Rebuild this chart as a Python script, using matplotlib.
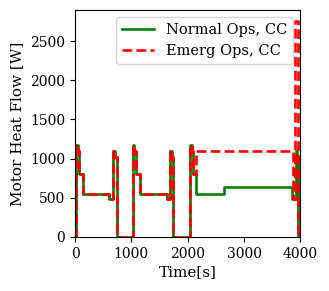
"""Motor heat flow over a mission profile, normal vs emergency ops (CC)."""

import numpy as np
import matplotlib
matplotlib.use("Agg")
import matplotlib.pyplot as plt

plt.rcParams['font.family'] = 'DejaVu Serif'

# step profile: value holds from each time until the next
t_normal = [0, 20, 45, 70, 140, 605, 676, 711, 738, 1025, 1050, 1075, 1145,
            1630, 1690, 1720, 1745, 2045, 2075, 2095, 2150, 2638, 3855,
            3915, 3940, 3965, 3990]
q_normal = [0, 1170, 1100, 800, 550, 480, 1100, 1020, 0, 1170, 1100, 800, 550,
            480, 1100, 1020, 0, 1170, 1100, 800, 550, 640, 480,
            1100, 1020, 0, 0]

t_emerg = [0, 20, 45, 70, 140, 605, 676, 711, 738, 1025, 1050, 1075, 1145,
           1630, 1690, 1720, 1745, 2045, 2075, 2095, 2150, 3862,
           3905, 3950, 3990]
q_emerg = [0, 1170, 1100, 800, 550, 480, 1100, 1020, 0, 1170, 1100, 800, 550,
           480, 1100, 1020, 0, 1170, 1100, 800, 1100, 480,
           2760, 0, 0]

fig = plt.figure(figsize=(3.29, 2.91), dpi=100)
ax = fig.add_axes([0.228, 0.186, 0.685, 0.780])

ax.plot(t_normal, q_normal, drawstyle='steps-post', color='green',
        lw=1.9, label='Normal Ops, CC')
ax.plot(t_emerg, q_emerg, drawstyle='steps-post', color='red',
        lw=1.9, ls='--', label='Emerg Ops, CC')

ax.set_xlim(0, 4000)
ax.set_ylim(bottom=0)
ax.set_xticks([0, 1000, 2000, 3000, 4000])
ax.set_yticks([0, 500, 1000, 1500, 2000, 2500])
ax.tick_params(labelsize=10)
ax.set_xlabel('Time[s]', fontsize=11, labelpad=3)
ax.set_ylabel('Motor Heat Flow [W]', fontsize=11)
ax.legend(loc='upper right', fontsize=10.5, handlelength=2.2)

fig.savefig('out.png', dpi=100)
